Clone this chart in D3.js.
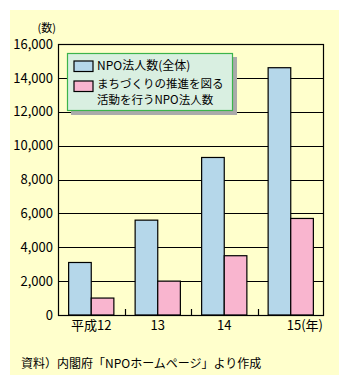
<!DOCTYPE html>
<html>
<head>
<meta charset="utf-8">
<script src="https://cdn.jsdelivr.net/npm/d3@7"></script>
<style>
  html, body { margin: 0; padding: 0; background: #fff; }
  svg { display: block; }
  text { font-family: "Noto Sans CJK JP", "Noto Sans", sans-serif; fill: #000; }
</style>
</head>
<body>
<svg id="chart" width="349" height="385"></svg>
<script>
// Years (平成) and counts of NPO corporations
const categories = ["平成12", "13", "14", "15"];
const totalNPO = [3100, 5600, 9300, 14600];
const townNPO = [1000, 2000, 3500, 5700];
const yTicks = [0, 2000, 4000, 6000, 8000, 10000, 12000, 14000, 16000];
const seriesNames = ["NPO法人数(全体)", ["まちづくりの推進を図る", "活動を行うNPO法人数"]];
const seriesColors = ["#b5d7ea", "#f9b5cf"];

const svg = d3.select("#chart");

// panel background
svg.append("rect").attr("x", 10).attr("y", 10).attr("width", 329).attr("height", 365)
  .attr("fill", "#ffffcc");

const plotL = 58, plotR = 324, plotT = 44, plotB = 315;

const x = d3.scaleBand().domain(categories).range([plotL, plotR]).paddingInner(0).paddingOuter(0);
const inner = d3.scaleBand().domain([0, 1]).range([0, x.bandwidth()]).paddingOuter(0.47).paddingInner(0);
const y = d3.scaleLinear().domain([0, 16000]).range([plotB, plotT]);

// horizontal gridlines
svg.append("g").selectAll("line").data(yTicks.slice(1, -1)).join("line")
  .attr("x1", plotL).attr("x2", plotR)
  .attr("y1", d => Math.round(y(d)) + 0.5).attr("y2", d => Math.round(y(d)) + 0.5)
  .attr("stroke", "#000").attr("stroke-width", 1.2);

// y tick labels
svg.append("g").selectAll("text").data(yTicks).join("text")
  .attr("x", 53).attr("y", d => y(d)).attr("dy", "0.36em")
  .attr("text-anchor", "end").attr("font-size", 13)
  .text(d => d3.format(",")(d));

svg.append("text").attr("x", 56).attr("y", 28).attr("dy", "0.36em")
  .attr("text-anchor", "end").attr("font-size", 11).text("(数)");

// bars
const groups = svg.append("g").selectAll("g").data(categories).join("g")
  .attr("transform", d => `translate(${x(d)},0)`);
groups.selectAll("rect").data((d, i) => [totalNPO[i], townNPO[i]]).join("rect")
  .attr("x", (d, j) => inner(j))
  .attr("width", inner.bandwidth())
  .attr("y", d => y(d))
  .attr("height", d => y(0) - y(d))
  .attr("fill", (d, j) => seriesColors[j])
  .attr("stroke", "#000").attr("stroke-width", 1.2);

// plot frame
svg.append("rect").attr("x", plotL + 0.5).attr("y", plotT + 0.5)
  .attr("width", plotR - plotL - 1).attr("height", plotB - plotT)
  .attr("fill", "none").attr("stroke", "#000").attr("stroke-width", 1.2);

// small ticks between categories
svg.append("g").selectAll("line").data(categories.slice(1)).join("line")
  .attr("x1", d => Math.round(x(d)) + 0.5).attr("x2", d => Math.round(x(d)) + 0.5)
  .attr("y1", plotB - 6).attr("y2", plotB)
  .attr("stroke", "#000").attr("stroke-width", 1.2);

// x labels
svg.append("g").selectAll("text").data(categories).join("text")
  .attr("x", (d, i) => i === categories.length - 1 ? x(d) + x.bandwidth() / 2 - 4 : x(d) + x.bandwidth() / 2)
  .attr("y", 325).attr("dy", "0.36em")
  .attr("text-anchor", (d, i) => i === categories.length - 1 ? "start" : "middle")
  .attr("font-size", 13)
  .text((d, i) => i === categories.length - 1 ? d + "(年)" : d);

// legend
const lg = svg.append("g");
lg.append("rect").attr("x", 71).attr("y", 57).attr("width", 166).attr("height", 58).attr("fill", "#aaaaaa");
lg.append("rect").attr("x", 67.5).attr("y", 53.5).attr("width", 165).attr("height", 57)
  .attr("fill", "#d9efe1").attr("stroke", "#3cb44b").attr("stroke-width", 1.2);
const swY = [61, 81];
seriesColors.forEach((c, i) => {
  lg.append("rect").attr("x", 74).attr("y", swY[i]).attr("width", 19).attr("height", 10.5)
    .attr("fill", c).attr("stroke", "#000").attr("stroke-width", 1.2);
});
lg.append("text").attr("x", 97).attr("y", 66).attr("dy", "0.36em").attr("font-size", 12).text(seriesNames[0]);
const twoLine = lg.append("text").attr("font-size", 11.5);
seriesNames[1].forEach((t, k) => {
  twoLine.append("tspan").attr("x", 97).attr("y", 84 + k * 15.5).attr("dy", "0.36em").text(t);
});

// source note
svg.append("text").attr("x", 21).attr("y", 364).attr("dy", "0.36em").attr("font-size", 12)
  .text("資料）内閣府「NPOホームページ」より作成");
</script>
</body>
</html>
